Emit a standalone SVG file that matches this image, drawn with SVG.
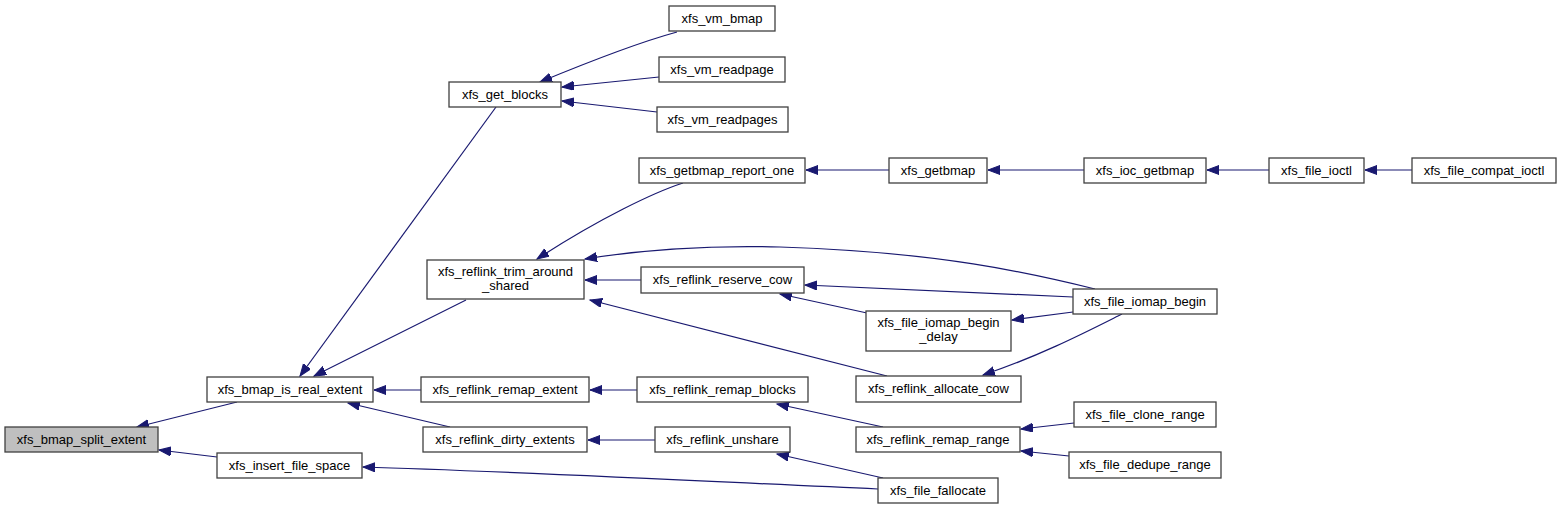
<svg xmlns="http://www.w3.org/2000/svg" width="1563" height="509" viewBox="0 0 1563 509">
<style>
.n rect{fill:#ffffff;stroke:#404040;stroke-width:1.3}
.n.root rect{fill:#bfbfbf}
.n text{font-family:"Liberation Sans",Arial,sans-serif;font-size:13px;fill:#000;text-anchor:middle}
#edges path{fill:none;stroke:#191970;stroke-width:1.2;marker-end:url(#ah)}
</style>
<defs>
<marker id="ah" markerUnits="userSpaceOnUse" markerWidth="14" markerHeight="11" refX="12" refY="4.5" orient="auto">
<path d="M0,0 L12,4.5 L0,9 z" fill="#191970" stroke="#191970" stroke-width="1"/>
</marker>
</defs>
<rect width="1563" height="509" fill="#ffffff"/>
<g id="edges">
<path d="M237,402 L137,427"/>
<path d="M217,457 L159,450"/>
<path d="M496,107 L300,376"/>
<path d="M466,300 L314,376"/>
<path d="M421,390 L374,390"/>
<path d="M450,427 L348,403"/>
<path d="M878,489 C700,481 500,471 363,467"/>
<path d="M677,32 C655,38 610,53 540,82"/>
<path d="M659,77 L562,87"/>
<path d="M657,112 L562,101"/>
<path d="M683,183 C655,192 600,218 537,259"/>
<path d="M1095,289 C1030,273 940,252 780,247 C700,245 640,250 585,259"/>
<path d="M641,280 L585,280"/>
<path d="M887,376 L590,300"/>
<path d="M889,170 L806,170"/>
<path d="M1084,170 L988,170"/>
<path d="M1269,170 L1207,170"/>
<path d="M1412,170 L1365,170"/>
<path d="M1073,297 L805,285"/>
<path d="M867,313 L780,294"/>
<path d="M1073,312 L1012,320"/>
<path d="M1122,314 C1090,330 1040,356 983,375"/>
<path d="M637,390 L590,390"/>
<path d="M883,427 L777,404"/>
<path d="M1074,423 L1021,429"/>
<path d="M1069,456 L1021,451"/>
<path d="M655,440 L588,440"/>
<path d="M883,478 L777,454"/>
</g>
<g id="n_split" class="n root"><rect x="5" y="427" width="153" height="25"/><text x="81.5" y="444">xfs_bmap_split_extent</text></g>
<g id="n_is_real" class="n"><rect x="207" y="377" width="166" height="25"/><text x="290" y="394">xfs_bmap_is_real_extent</text></g>
<g id="n_insert" class="n"><rect x="217" y="453" width="145" height="25"/><text x="289.5" y="470">xfs_insert_file_space</text></g>
<g id="n_get_blocks" class="n"><rect x="449" y="82" width="112" height="25"/><text x="505" y="99">xfs_get_blocks</text></g>
<g id="n_vm_bmap" class="n"><rect x="669" y="6" width="106" height="25"/><text x="722" y="23">xfs_vm_bmap</text></g>
<g id="n_vm_readpage" class="n"><rect x="659" y="57" width="126" height="25"/><text x="722" y="74">xfs_vm_readpage</text></g>
<g id="n_vm_readpages" class="n"><rect x="657" y="107" width="131" height="25"/><text x="722.5" y="124">xfs_vm_readpages</text></g>
<g id="n_report_one" class="n"><rect x="639" y="158" width="166" height="25"/><text x="722" y="175">xfs_getbmap_report_one</text></g>
<g id="n_trim" class="n"><rect x="427" y="260" width="157" height="39"/><text x="505.5" y="276">xfs_reflink_trim_around</text><text x="505.5" y="290">_shared</text></g>
<g id="n_reserve_cow" class="n"><rect x="641" y="267" width="163" height="26"/><text x="722.5" y="284">xfs_reflink_reserve_cow</text></g>
<g id="n_getbmap" class="n"><rect x="889" y="158" width="98" height="25"/><text x="938" y="175">xfs_getbmap</text></g>
<g id="n_ioc_getbmap" class="n"><rect x="1084" y="158" width="122" height="25"/><text x="1145" y="175">xfs_ioc_getbmap</text></g>
<g id="n_file_ioctl" class="n"><rect x="1269" y="158" width="95" height="25"/><text x="1316.5" y="175">xfs_file_ioctl</text></g>
<g id="n_compat_ioctl" class="n"><rect x="1412" y="158" width="144" height="25"/><text x="1484" y="175">xfs_file_compat_ioctl</text></g>
<g id="n_iomap_begin" class="n"><rect x="1073" y="289" width="144" height="25"/><text x="1145" y="306">xfs_file_iomap_begin</text></g>
<g id="n_iomap_delay" class="n"><rect x="866" y="311" width="145" height="40"/><text x="938.5" y="327">xfs_file_iomap_begin</text><text x="938.5" y="341">_delay</text></g>
<g id="n_allocate_cow" class="n"><rect x="856" y="376" width="165" height="26"/><text x="938.5" y="393">xfs_reflink_allocate_cow</text></g>
<g id="n_remap_range" class="n"><rect x="856" y="427" width="164" height="25"/><text x="938" y="444">xfs_reflink_remap_range</text></g>
<g id="n_clone_range" class="n"><rect x="1074" y="402" width="142" height="25"/><text x="1145" y="419">xfs_file_clone_range</text></g>
<g id="n_dedupe_range" class="n"><rect x="1069" y="452" width="152" height="26"/><text x="1145" y="469">xfs_file_dedupe_range</text></g>
<g id="n_fallocate" class="n"><rect x="878" y="478" width="120" height="25"/><text x="938" y="495">xfs_file_fallocate</text></g>
<g id="n_remap_extent" class="n"><rect x="421" y="377" width="168" height="25"/><text x="505" y="394">xfs_reflink_remap_extent</text></g>
<g id="n_remap_blocks" class="n"><rect x="637" y="377" width="171" height="25"/><text x="722.5" y="394">xfs_reflink_remap_blocks</text></g>
<g id="n_dirty_extents" class="n"><rect x="423" y="427" width="164" height="25"/><text x="505" y="444">xfs_reflink_dirty_extents</text></g>
<g id="n_unshare" class="n"><rect x="655" y="427" width="135" height="25"/><text x="722.5" y="444">xfs_reflink_unshare</text></g>
</svg>
